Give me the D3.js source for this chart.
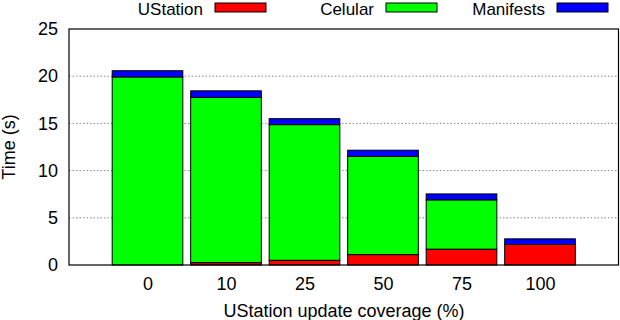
<!DOCTYPE html>
<html>
<head>
<meta charset="utf-8">
<script src="https://cdn.jsdelivr.net/npm/d3@7"></script>
<style>
  body { margin: 0; background: #fff; }
  text { font-family: "Liberation Sans", Arial, sans-serif; fill: #000; }
</style>
</head>
<body>
<svg id="graph1"></svg>
<script>
var categories = ["0", "10", "25", "50", "75", "100"]
var ustation  = [0, 0.25, 0.5, 1.1, 1.68, 2.17]
var celular   = [19.92, 17.5, 14.37, 10.4, 5.22, 0]
var manifests = [0.66, 0.7, 0.63, 0.66, 0.63, 0.6]
var seriesNames = ["UStation", "Celular", "Manifests"]
var seriesColors = ["#ff0000", "#00ff00", "#0000ff"]
var yTicks = [0, 5, 10, 15, 20, 25]

var screen = {width:620, height:320}
var margins = {top:29, bottom:55, left:69, right:1.5}

var svg = d3.select("#graph1")
    .attr("width", screen.width)
    .attr("height", screen.height)

var width = screen.width - margins.left - margins.right
var height = screen.height - margins.top - margins.bottom

var xScale = d3.scaleLinear()
    .domain([-1, 6])
    .range([0, width])
var yScale = d3.scaleLinear()
    .domain([0, 25])
    .range([height, 0])

var g = svg.append("g")
    .attr("transform", "translate(" + margins.left + "," + margins.top + ")")

// grid
g.selectAll(".grid")
    .data(yTicks.filter(function(t){ return t > 0 && t < 25 }))
    .enter()
    .append("line")
    .attr("x1", 0).attr("x2", width)
    .attr("y1", function(d){ return yScale(d) })
    .attr("y2", function(d){ return yScale(d) })
    .attr("stroke", "#888")
    .attr("stroke-width", 1)
    .attr("stroke-dasharray", "1.5,2")

// stacked data
var table = categories.map(function(c, i){
    return {cat: c, i: i, UStation: ustation[i], Celular: celular[i], Manifests: manifests[i]}
})
var stack = d3.stack().keys(seriesNames)(table)

var barW = 0.9
stack.forEach(function(layer, k){
    g.selectAll(".s" + k)
        .data(layer.filter(function(d){ return d[1] - d[0] > 0 }))
        .enter()
        .append("rect")
        .attr("x", function(d){ return xScale(d.data.i - barW/2) })
        .attr("width", function(d){ return xScale(barW) - xScale(0) })
        .attr("y", function(d){ return yScale(d[1]) })
        .attr("height", function(d){ return yScale(d[0]) - yScale(d[1]) })
        .attr("fill", seriesColors[k])
        .attr("stroke", "#000")
        .attr("stroke-width", 1)
})

// axes
var yAxis = d3.axisLeft(yScale).tickValues(yTicks).tickSize(0).tickPadding(11)
g.append("g").call(yAxis)

var xAxis = d3.axisBottom(xScale)
    .tickValues(d3.range(categories.length))
    .tickFormat(function(d){ return categories[d] })
    .tickSize(0).tickPadding(12)
g.append("g").attr("transform", "translate(0," + height + ")").call(xAxis)

g.selectAll(".domain").remove()
g.selectAll(".tick text").style("font-size", "18px").attr("font-family", null)

g.append("rect")
    .attr("width", width).attr("height", height)
    .attr("fill", "none").attr("stroke", "#000").attr("stroke-width", 1.2)

// labels
svg.append("text")
    .attr("transform", "translate(9," + (margins.top + height/2) + ") rotate(-90)")
    .attr("text-anchor", "middle")
    .attr("dy", "0.35em")
    .style("font-size", "18px")
    .text("Time (s)")

svg.append("text")
    .attr("x", 344).attr("y", 311)
    .attr("text-anchor", "middle")
    .attr("dy", "0.35em")
    .style("font-size", "18px")
    .text("UStation update coverage (%)")

// legend
var legendX = [266, 437, 608]
seriesNames.forEach(function(name, k){
    svg.append("rect")
        .attr("x", legendX[k] - 51).attr("y", 3)
        .attr("width", 51).attr("height", 9)
        .attr("fill", seriesColors[k]).attr("stroke", "#000").attr("stroke-width", 1)
    svg.append("text")
        .attr("x", legendX[k] - 63).attr("y", 9.5)
        .attr("dy", "0.35em")
        .attr("text-anchor", "end")
        .style("font-size", "17px")
        .text(name)
})
</script>
</body>
</html>
